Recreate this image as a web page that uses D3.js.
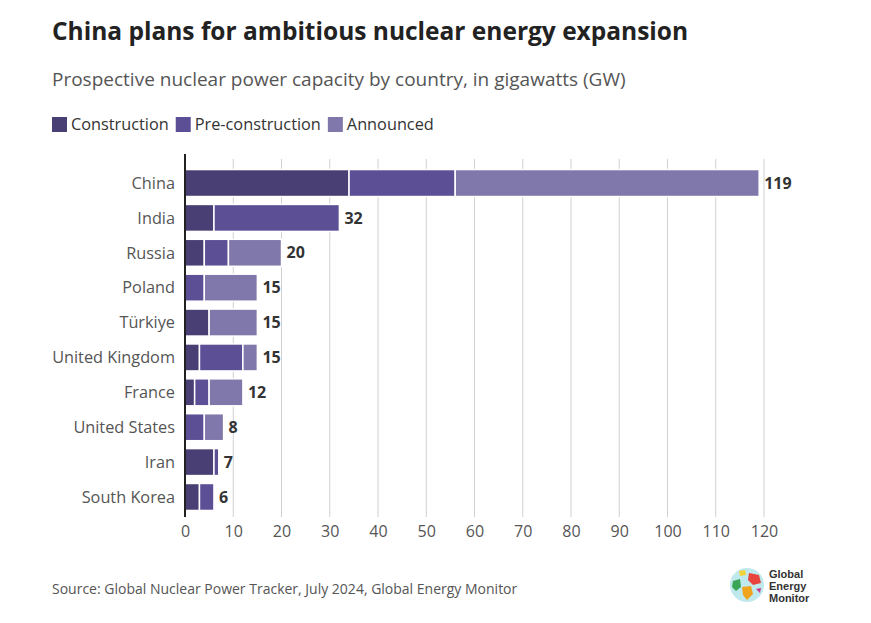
<!DOCTYPE html>
<html>
<head>
<meta charset="utf-8">
<script src="https://cdn.jsdelivr.net/npm/d3@7"></script>
<style>
  body { margin: 0; background: #fff; font-family: "Open Sans", sans-serif; }
</style>
</head>
<body>
<svg id="chart"></svg>
<script>
var countries = ["China", "India", "Russia", "Poland", "Türkiye", "United Kingdom", "France", "United States", "Iran", "South Korea"];
var construction    = [34, 6, 4, 0, 5, 3, 2, 0, 6, 3];
var preConstruction = [22, 26, 5, 4, 0, 9, 3, 4, 1, 3];
var announced       = [63, 0, 11, 11, 10, 3, 7, 4, 0, 0];
var totals          = [119, 32, 20, 15, 15, 15, 12, 8, 7, 6];
var seriesNames = ["Construction", "Pre-construction", "Announced"];
var xTicks = [0, 10, 20, 30, 40, 50, 60, 70, 80, 90, 100, 110, 120];

var colors = ["#4a3f75", "#5c4f96", "#8077ab"];

var W = 871, H = 623;
var margin = {top: 165, right: 107, bottom: 106, left: 185},
    width = W - margin.left - margin.right,
    height = H - margin.top - margin.bottom;

var svg = d3.select("#chart")
    .attr("width", W)
    .attr("height", H);

// title block
svg.append("text")
    .attr("x", 52).attr("y", 40)
    .style("font-size", "24.5px").style("font-weight", "700")
    .style("fill", "#222")
    .text("China plans for ambitious nuclear energy expansion");

svg.append("text")
    .attr("x", 52).attr("y", 86)
    .style("font-size", "19px")
    .style("fill", "#555")
    .text("Prospective nuclear power capacity by country, in gigawatts (GW)");

// legend
var lx = 52;
seriesNames.forEach(function(name, i) {
  var g = svg.append("g").attr("transform", "translate(" + lx + ",117)");
  g.append("rect").attr("width", 15).attr("height", 15).style("fill", colors[i]);
  var t = g.append("text").attr("x", 19).attr("y", 13)
    .style("font-size", "16.3px").style("fill", "#333").text(name);
  lx += 19 + t.node().getComputedTextLength() + 7;
});

var g = svg.append("g")
    .attr("transform", "translate(" + margin.left + "," + margin.top + ")");

var x = d3.scaleLinear().domain([0, 120]).range([0, width]);
var y = d3.scaleBand().domain(countries).range([0, 350]).paddingInner(0.226).paddingOuter(0.13);

// gridlines
g.append("g")
  .selectAll("line")
  .data(xTicks)
  .enter().append("line")
    .attr("x1", function(d) { return x(d); })
    .attr("x2", function(d) { return x(d); })
    .attr("y1", -6)
    .attr("y2", height)
    .style("stroke", "#d0d0d0")
    .style("stroke-width", 1);

// stacked data
var rows = countries.map(function(c, i) {
  return {country: c, Construction: construction[i], "Pre-construction": preConstruction[i], Announced: announced[i], total: totals[i]};
});
var stack = d3.stack().keys(seriesNames)(rows);

g.append("g")
  .selectAll("g")
  .data(stack)
  .enter().append("g")
    .style("fill", function(d, i) { return colors[i]; })
  .selectAll("rect")
  .data(function(d) { return d; })
  .enter().append("rect")
    .filter(function(d) { return d[1] - d[0] > 0; })
    .attr("x", function(d) { return x(d[0]); })
    .attr("width", function(d) { return x(d[1]) - x(d[0]); })
    .attr("y", function(d) { return y(d.data.country); })
    .attr("height", y.bandwidth())
    .style("stroke", "#fff")
    .style("stroke-width", 1.5);

// total labels
g.append("g")
  .selectAll("text")
  .data(rows)
  .enter().append("text")
    .attr("x", function(d) { return x(d.total) + 5; })
    .attr("y", function(d) { return y(d.country) + y.bandwidth() / 2; })
    .attr("dy", "0.35em")
    .style("font-size", "16px").style("font-weight", "700")
    .style("fill", "#333")
    .text(function(d) { return d.total; });

// y axis labels
g.append("g")
  .selectAll("text")
  .data(countries)
  .enter().append("text")
    .attr("x", -10)
    .attr("y", function(d) { return y(d) + y.bandwidth() / 2; })
    .attr("dy", "0.35em")
    .style("text-anchor", "end")
    .style("font-size", "16.3px")
    .style("fill", "#555")
    .text(function(d) { return d; });

g.append("line")
    .attr("x1", 0).attr("x2", 0)
    .attr("y1", -11).attr("y2", height)
    .style("stroke", "#222").style("stroke-width", 2);

// x axis
var xAxis = g.append("g")
    .attr("transform", "translate(0," + height + ")")
    .call(d3.axisBottom(x).tickValues(xTicks).tickSize(0).tickPadding(9));
xAxis.select(".domain").remove();
xAxis.selectAll("text")
    .style("font-family", "Open Sans, sans-serif")
    .style("font-size", "16px")
    .style("fill", "#555");

// source
svg.append("text")
    .attr("x", 52).attr("y", 594)
    .style("font-size", "14px").style("fill", "#555")
    .text("Source: Global Nuclear Power Tracker, July 2024, Global Energy Monitor");

// logo
var logo = svg.append("g").attr("transform", "translate(747,585)");
logo.append("circle").attr("r", 17).style("fill", "#bfe9ec");
logo.append("path").attr("d", "M2,-12 L12,-10 L14,-2 L6,0 L1,-5 Z").style("fill", "#e8433c");
logo.append("path").attr("d", "M-14,-4 L-7,-6 L-6,2 L-11,6 L-15,2 Z").style("fill", "#3aa655");
logo.append("path").attr("d", "M-5,2 L4,1 L6,9 L0,15 L-4,10 Z").style("fill", "#f0a31c");
logo.append("path").attr("d", "M-8,-14 L-2,-15 L-1,-10 L-7,-9 Z").style("fill", "#f2d43a");
logo.append("path").attr("d", "M9,4 L14,3 L13,8 Z").style("fill", "#c43b8f");
["Global", "Energy", "Monitor"].forEach(function(w, i) {
  logo.append("text")
    .attr("x", 22).attr("y", -7 + i * 12)
    .style("font-family", "Liberation Sans, Arial, sans-serif")
    .style("font-size", "11px").style("font-weight", "700")
    .style("fill", "#333")
    .text(w);
});
</script>
</body>
</html>
